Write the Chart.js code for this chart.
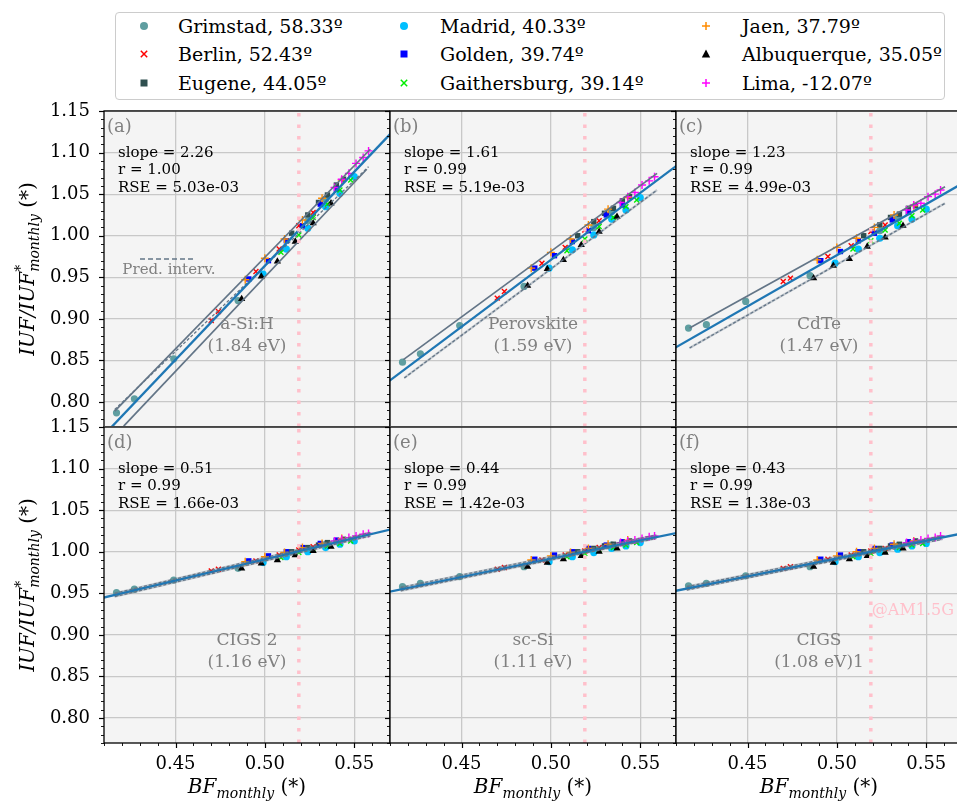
<!DOCTYPE html>
<html>
<head>
<meta charset="utf-8">
<title>IUF / IUF* monthly vs BF monthly</title>
<script src="https://cdn.jsdelivr.net/npm/chart.js@4.4.1/dist/chart.umd.min.js"></script>
<style>
  html, body { margin: 0; padding: 0; background: #ffffff; }
  body { position: relative; width: 957px; height: 806px; overflow: hidden; font-family: "DejaVu Serif", serif; }
  canvas { position: absolute; }
  #legend { position: absolute; left: 115px; top: 12px; width: 828px; height: 86px;
            border: 1px solid #cccccc; border-radius: 4px; background: #ffffff; }
  #legend span { position: absolute; font-size: 19px; line-height: 22px; white-space: nowrap; color: #000; }
  #legend svg { position: absolute; overflow: visible; }
</style>
</head>
<body>
<div id="legend"></div>
<script>
// ---- data ----
const cities = ['Grimstad', 'Berlin', 'Eugene', 'Madrid', 'Golden', 'Gaithersburg', 'Jaen', 'Albuquerque', 'Lima'];
const latitudes = ['58.33', '52.43', '44.05', '40.33', '39.74', '39.14', '37.79', '35.05', '-12.07'];

// BF monthly (x) per city
const bfGrimstad     = [0.417, 0.427, 0.449, 0.485, 0.524, 0.534];
const bfBerlin       = [0.470, 0.474, 0.495, 0.508, 0.519, 0.527];
const bfEugene       = [0.515, 0.524, 0.530, 0.535, 0.540, 0.544];
const bfMadrid       = [0.499, 0.512, 0.524, 0.534, 0.542, 0.550];
const bfGolden       = [0.491, 0.502, 0.512, 0.521, 0.531, 0.540];
const bfGaithersburg = [0.509, 0.519, 0.527, 0.535, 0.542, 0.548];
const bfJaen         = [0.489, 0.500, 0.511, 0.521, 0.532, 0.543];
const bfAlbuquerque  = [0.487, 0.498, 0.507, 0.517, 0.527, 0.537];
const bfLima         = [0.539, 0.543, 0.547, 0.551, 0.555, 0.558];

// IUF/IUF* monthly (y) per city, one row per panel (a)..(f)
const iufGrimstad = [
  [0.787, 0.804, 0.852, 0.922, 1.018, 1.044],
  [0.848, 0.858, 0.892, 0.939, 1.010, 1.029],
  [0.889, 0.893, 0.921, 0.952, 1.006, 1.021],
  [0.951, 0.955, 0.966, 0.980, 1.003, 1.009],
  [0.958, 0.962, 0.970, 0.982, 1.002, 1.008],
  [0.959, 0.962, 0.971, 0.982, 1.002, 1.007]];
const iufBerlin = [
  [0.898, 0.909, 0.957, 0.984, 1.012, 1.028],
  [0.925, 0.933, 0.967, 0.986, 1.007, 1.018],
  [0.945, 0.949, 0.975, 0.988, 1.005, 1.013],
  [0.977, 0.979, 0.989, 0.996, 1.002, 1.006],
  [0.979, 0.981, 0.990, 0.996, 1.001, 1.005],
  [0.980, 0.982, 0.991, 0.996, 1.001, 1.004]];
const iufEugene = [
  [1.003, 1.025, 1.040, 1.049, 1.061, 1.068],
  [1.000, 1.017, 1.027, 1.033, 1.042, 1.047],
  [1.000, 1.013, 1.022, 1.026, 1.033, 1.036],
  [1.000, 1.005, 1.008, 1.011, 1.013, 1.015],
  [1.000, 1.004, 1.007, 1.009, 1.011, 1.013],
  [1.000, 1.004, 1.007, 1.009, 1.011, 1.013]];
const iufMadrid = [
  [0.954, 0.984, 1.009, 1.035, 1.051, 1.071],
  [0.961, 0.983, 1.001, 1.020, 1.031, 1.046],
  [0.967, 0.984, 0.997, 1.012, 1.020, 1.032],
  [0.987, 0.994, 1.000, 1.005, 1.009, 1.013],
  [0.988, 0.994, 0.999, 1.004, 1.007, 1.011],
  [0.988, 0.994, 0.999, 1.003, 1.007, 1.010]];
const iufGolden = [
  [0.948, 0.970, 0.994, 1.012, 1.038, 1.056],
  [0.961, 0.976, 0.993, 1.006, 1.025, 1.037],
  [0.970, 0.981, 0.994, 1.003, 1.019, 1.028],
  [0.989, 0.995, 1.000, 1.005, 1.010, 1.014],
  [0.991, 0.996, 1.000, 1.004, 1.008, 1.012],
  [0.991, 0.996, 1.000, 1.004, 1.008, 1.012]];
const iufGaithersburg = [
  [0.980, 1.001, 1.022, 1.038, 1.055, 1.067],
  [0.982, 0.996, 1.011, 1.022, 1.035, 1.043],
  [0.984, 0.994, 1.007, 1.015, 1.024, 1.031],
  [0.993, 0.999, 1.003, 1.007, 1.010, 1.013],
  [0.994, 0.998, 1.002, 1.005, 1.008, 1.011],
  [0.994, 0.998, 1.001, 1.005, 1.008, 1.010]];
const iufJaen = [
  [0.947, 0.973, 0.996, 1.019, 1.045, 1.067],
  [0.961, 0.980, 0.996, 1.013, 1.032, 1.046],
  [0.971, 0.986, 0.997, 1.010, 1.025, 1.036],
  [0.988, 0.994, 0.999, 1.005, 1.010, 1.016],
  [0.990, 0.995, 0.999, 1.004, 1.009, 1.014],
  [0.990, 0.995, 1.000, 1.004, 1.009, 1.013]];
const iufAlbuquerque = [
  [0.924, 0.951, 0.969, 0.993, 1.015, 1.039],
  [0.940, 0.960, 0.971, 0.989, 1.005, 1.023],
  [0.949, 0.964, 0.972, 0.987, 0.998, 1.012],
  [0.980, 0.986, 0.990, 0.996, 1.001, 1.006],
  [0.982, 0.987, 0.991, 0.995, 1.000, 1.004],
  [0.982, 0.987, 0.991, 0.995, 0.999, 1.004]];
const iufLima = [
  [1.058, 1.068, 1.075, 1.087, 1.094, 1.102],
  [1.040, 1.047, 1.052, 1.061, 1.066, 1.071],
  [1.031, 1.037, 1.039, 1.047, 1.050, 1.055],
  [1.013, 1.015, 1.017, 1.019, 1.021, 1.022],
  [1.011, 1.013, 1.014, 1.016, 1.018, 1.019],
  [1.011, 1.012, 1.014, 1.016, 1.017, 1.019]];

// per panel fit results and labels
const panelLetters = ['(a)', '(b)', '(c)', '(d)', '(e)', '(f)'];
const materials = [['a-Si:H', '(1.84 eV)'], ['Perovskite', '(1.59 eV)'], ['CdTe', '(1.47 eV)'],
                   ['CIGS 2', '(1.16 eV)'], ['sc-Si', '(1.11 eV)'], ['CIGS', '(1.08 eV)1']];
const slopes   = [2.26, 1.61, 1.23, 0.51, 0.44, 0.43];
const rValues  = ['1.00', '0.99', '0.99', '0.99', '0.99', '0.99'];
const rseTexts = ['5.03e-03', '5.19e-03', '4.99e-03', '1.66e-03', '1.42e-03', '1.38e-03'];
const fitUnityBF = [0.516, 0.518, 0.519, 0.518, 0.519, 0.519];   // BF where the fit crosses 1

// prediction interval lines: [x1, y1, x2, y2]
const piUpper = [[0.416, 0.789, 0.559, 1.104], [0.4175, 0.851, 0.5594, 1.075], [0.4176, 0.889, 0.5605, 1.059],
                 [0.416, 0.950, 0.559, 1.023], [0.416, 0.957, 0.559, 1.020], [0.416, 0.958, 0.559, 1.019]];
const piLower = [[0.421, 0.771, 0.557, 1.080], [0.418, 0.829, 0.5594, 1.055], [0.4176, 0.865, 0.5605, 1.039],
                 [0.416, 0.946, 0.559, 1.019], [0.416, 0.953, 0.559, 1.016], [0.416, 0.954, 0.559, 1.015]];
const piCross = [[0.416, 0.791, 0.558, 1.083], null, null, null, null, null];

const bfReference = 0.519;     // BF @AM1.5G
const xRange = [0.41, 0.57];
const yRange = [0.77, 1.15];
const xTicks = [0.45, 0.50, 0.55];
const yTicks = [0.80, 0.85, 0.90, 0.95, 1.00, 1.05, 1.10, 1.15];

const bfByCity  = [bfGrimstad, bfBerlin, bfEugene, bfMadrid, bfGolden, bfGaithersburg, bfJaen, bfAlbuquerque, bfLima];
const iufByCity = [iufGrimstad, iufBerlin, iufEugene, iufMadrid, iufGolden, iufGaithersburg, iufJaen, iufAlbuquerque, iufLima];

// ---- styles / layout ----
const markers = [
  { style: 'circle',   color: '#5f9ea0', r: 3.6, bw: 0 },
  { style: 'crossRot', color: '#ff0000', r: 3.5, bw: 1.4 },
  { style: 'rect',     color: '#2f4f4f', r: 3.8, bw: 0 },
  { style: 'circle',   color: '#00bfff', r: 3.6, bw: 0 },
  { style: 'rect',     color: '#0000ff', r: 3.8, bw: 0 },
  { style: 'crossRot', color: '#00ee00', r: 3.5, bw: 1.4 },
  { style: 'cross',    color: '#ff8c00', r: 4.0, bw: 1.4 },
  { style: 'triangle', color: '#000000', r: 4.2, bw: 0 },
  { style: 'cross',    color: '#ff00ff', r: 4.0, bw: 1.4 }
];
const COL_LEFT = [104, 390, 676], ROW_TOP = [111, 427];
const PW = 286, PH = 316, PAD_T = 16, SIDE = 8, X_AXIS_H = 63, Y_AXIS_W = 104;
const SLATE = '#637587', SLATE_LIGHT = 'rgba(99,117,135,0.35)';
const SERIF = '"DejaVu Serif", serif';

Chart.defaults.font.family = SERIF;

// legend (3 columns, column-major like matplotlib ncol=3)
const legend = document.getElementById('legend');
const legMarkX = [28, 288, 590], legTextX = [62, 324, 626], legRowY = [13, 41, 70];
function markerSvg(m) {
  const c = m.color;
  if (m.style === 'circle') return `<circle cx="0" cy="0" r="4" fill="${c}"/>`;
  if (m.style === 'rect') return `<rect x="-3.5" y="-3.5" width="7" height="7" fill="${c}"/>`;
  if (m.style === 'triangle') return `<polygon points="0,-4.5 4.2,3.5 -4.2,3.5" fill="${c}"/>`;
  if (m.style === 'cross') return `<path d="M-4 0H4M0 -4V4" stroke="${c}" stroke-width="1.5"/>`;
  return `<path d="M-3.2 -3.2L3.2 3.2M-3.2 3.2L3.2 -3.2" stroke="${c}" stroke-width="1.5"/>`;
}
cities.forEach((name, i) => {
  const col = Math.floor(i / 3), row = i % 3;
  const svg = document.createElementNS('http://www.w3.org/2000/svg', 'svg');
  svg.setAttribute('width', '10'); svg.setAttribute('height', '10');
  svg.setAttribute('viewBox', '-5 -5 10 10');
  svg.style.left = (legMarkX[col] - 5) + 'px';
  svg.style.top = (legRowY[row] - 5) + 'px';
  svg.innerHTML = markerSvg(markers[i]);
  legend.appendChild(svg);
  const span = document.createElement('span');
  span.textContent = name + ', ' + latitudes[i] + 'º';
  span.style.left = legTextX[col] + 'px';
  span.style.top = (legRowY[row] - 11) + 'px';
  legend.appendChild(span);
});

function seg(q) { return [{ x: q[0], y: q[1] }, { x: q[2], y: q[3] }]; }
function lineDs(data, color, width, dash, order) {
  return { data, showLine: true, borderColor: color, borderWidth: width, borderDash: dash || [],
           pointRadius: 0, pointHoverRadius: 0, fill: false, order };
}

function drawMath(ctx, segs) {
  // segs: {t, size, italic, dy, stack} ; stack=true shares x with next segment
  let w = 0, i = 0;
  const fontOf = s => (s.italic ? 'italic ' : '') + s.size + 'px ' + SERIF;
  while (i < segs.length) {
    ctx.font = fontOf(segs[i]);
    let sw = ctx.measureText(segs[i].t).width;
    if (segs[i].stack) { ctx.font = fontOf(segs[i + 1]); sw = Math.max(sw, ctx.measureText(segs[i + 1].t).width); i++; }
    w += sw; i++;
  }
  let x = -w / 2; i = 0;
  ctx.textBaseline = 'alphabetic'; ctx.textAlign = 'left';
  while (i < segs.length) {
    ctx.font = fontOf(segs[i]);
    let sw = ctx.measureText(segs[i].t).width;
    ctx.fillText(segs[i].t, x, 7 + (segs[i].dy || 0));
    if (segs[i].stack) {
      const n = segs[i + 1];
      ctx.font = fontOf(n);
      ctx.fillText(n.t, x, 7 + (n.dy || 0));
      sw = Math.max(sw, ctx.measureText(n.t).width); i++;
    }
    x += sw; i++;
  }
}

function decoPlugin(p, row, col) {
  return {
    id: 'deco' + p,
    beforeDraw(chart) {
      const { ctx, chartArea: a } = chart;
      ctx.save();
      ctx.fillStyle = '#f4f4f4';
      ctx.fillRect(a.left, a.top, a.right - a.left, a.bottom - a.top);
      ctx.restore();
    },
    afterDatasetsDraw(chart) {
      const { ctx, chartArea: a, scales } = chart;
      ctx.save();
      ctx.textAlign = 'left'; ctx.textBaseline = 'middle';
      ctx.fillStyle = '#808080';
      ctx.font = '18px ' + SERIF;
      ctx.fillText(panelLetters[p], a.left + 3, a.top + 16);
      ctx.fillStyle = '#000000';
      ctx.font = '15px ' + SERIF;
      const sx = a.left + 14;
      ctx.fillText('slope = ' + slopes[p].toFixed(2), sx, a.top + 42);
      ctx.fillText('r = ' + rValues[p], sx, a.top + 59.5);
      ctx.fillText('RSE = ' + rseTexts[p], sx, a.top + 77);
      ctx.fillStyle = '#808080';
      ctx.textAlign = 'center';
      ctx.font = '17px ' + SERIF;
      const cx = (a.left + a.right) / 2;
      ctx.fillText(materials[p][0], cx, a.top + 214);
      ctx.fillText(materials[p][1], cx, a.top + 236);
      if (p === 0) {
        const y0 = a.top + 148;
        ctx.strokeStyle = SLATE; ctx.lineWidth = 1.3; ctx.setLineDash([5, 3]);
        ctx.beginPath(); ctx.moveTo(a.left + 36, y0); ctx.lineTo(a.left + 89, y0); ctx.stroke();
        ctx.setLineDash([]);
        ctx.font = '15px ' + SERIF; ctx.fillStyle = '#808080';
        ctx.fillText('Pred. interv.', a.left + 65, a.top + 159);
      }
      if (p === 5) {
        ctx.textAlign = 'left';
        ctx.fillStyle = '#ffc0cb';
        ctx.font = '16px ' + SERIF;
        ctx.fillText('@AM1.5G', scales.x.getPixelForValue(bfReference) + 1, a.top + 184);
      }
      ctx.restore();
    },
    afterDraw(chart) {
      const { ctx, chartArea: a, scales } = chart;
      ctx.save();
      ctx.strokeStyle = '#000000';
      ctx.fillStyle = '#000000';
      ctx.font = '18px ' + SERIF;
      // y ticks (major every 0.05, minor every 0.01) on the left of every panel
      for (let k = 77; k <= 115; k++) {
        const yy = Math.round(scales.y.getPixelForValue(k / 100)) + 0.5;
        const major = k % 5 === 0;
        ctx.lineWidth = major ? 1.2 : 0.9;
        ctx.beginPath(); ctx.moveTo(a.left, yy); ctx.lineTo(a.left - (major ? 5 : 3), yy); ctx.stroke();
      }
      if (col === 0) {
        ctx.textAlign = 'right'; ctx.textBaseline = 'middle';
        yTicks.forEach(v => ctx.fillText(v.toFixed(2), a.left - 14, scales.y.getPixelForValue(v)));
      }
      if (row === 1) {
        for (let k = 41; k <= 57; k++) {
          const xx = Math.round(scales.x.getPixelForValue(k / 100)) + 0.5;
          const major = k % 5 === 0;
          ctx.lineWidth = major ? 1.2 : 0.9;
          ctx.beginPath(); ctx.moveTo(xx, a.bottom); ctx.lineTo(xx, a.bottom + (major ? 5 : 3)); ctx.stroke();
        }
        ctx.textAlign = 'center'; ctx.textBaseline = 'middle';
        xTicks.forEach(v => ctx.fillText(v.toFixed(2), scales.x.getPixelForValue(v), a.bottom + 21));
      }
      ctx.lineWidth = 1.3;
      ctx.strokeRect(a.left, a.top, a.right - a.left, a.bottom - a.top);
      if (col === 0) {
        ctx.save();
        ctx.translate(27, (a.top + a.bottom) / 2);
        ctx.rotate(-Math.PI / 2);
        drawMath(ctx, [
          { t: 'IUF/IUF', size: 20, italic: true },
          { t: '*', size: 14, italic: true, dy: -9, stack: true },
          { t: 'monthly', size: 14, italic: true, dy: 5 },
          { t: ' (*)', size: 20 }
        ]);
        ctx.restore();
      }
      if (row === 1) {
        ctx.save();
        ctx.translate((a.left + a.right) / 2, a.bottom + 43);
        drawMath(ctx, [
          { t: 'BF', size: 20, italic: true },
          { t: 'monthly', size: 14, italic: true, dy: 5 },
          { t: ' (*)', size: 20 }
        ]);
        ctx.restore();
      }
      ctx.restore();
    }
  };
}

for (let p = 0; p < 6; p++) {
  const row = p < 3 ? 0 : 1, col = p % 3;
  const canvas = document.createElement('canvas');
  const left = col === 0 ? 0 : COL_LEFT[col] - SIDE;
  const width = col === 0 ? Y_AXIS_W + PW : PW + SIDE;
  const top = ROW_TOP[row] - PAD_T;
  const height = PAD_T + PH + (row === 1 ? X_AXIS_H : 3);
  canvas.width = width; canvas.height = height;
  canvas.style.left = left + 'px'; canvas.style.top = top + 'px';
  canvas.style.width = width + 'px'; canvas.style.height = height + 'px';
  document.body.appendChild(canvas);

  const datasets = [];
  cities.forEach((name, i) => {
    const m = markers[i];
    datasets.push({
      label: name,
      data: bfByCity[i].map((x, k) => ({ x, y: iufByCity[i][p][k] })),
      pointStyle: m.style, pointRadius: m.r, pointHoverRadius: m.r,
      pointBackgroundColor: m.color, pointBorderColor: m.color, pointBorderWidth: m.bw,
      showLine: false, order: 30 - i
    });
  });
  const s = slopes[p], x0 = fitUnityBF[p];
  datasets.push(lineDs([{ x: 0.40, y: 1 + s * (0.40 - x0) }, { x: 0.58, y: 1 + s * (0.58 - x0) }], '#1f77b4', 2.3, null, 3));
  if (row === 0) {
    datasets.push(lineDs(seg(piUpper[p]), SLATE, 1.7, null, 4));
  } else {
    datasets.push(lineDs(seg(piUpper[p]), SLATE_LIGHT, 2.2, null, 5));
    datasets.push(lineDs(seg(piUpper[p]), SLATE, 1.3, [3, 2], 2));
  }
  if (p === 0) {
    datasets.push(lineDs(seg(piLower[p]), SLATE, 1.7, null, 4));
  } else {
    datasets.push(lineDs(seg(piLower[p]), SLATE_LIGHT, 2.2, null, 5));
    datasets.push(lineDs(seg(piLower[p]), SLATE, 1.3, [3, 2], row === 0 ? 4 : 2));
  }
  if (piCross[p]) datasets.push(lineDs(seg(piCross[p]), SLATE, 1.3, [3, 2], 4));
  datasets.push(lineDs([{ x: bfReference, y: yRange[0] }, { x: bfReference, y: yRange[1] }], '#ffc0cb', 3.5, [3.5, 8], 1));

  new Chart(canvas, {
    type: 'scatter',
    data: { datasets },
    options: {
      responsive: false, animation: false, events: [],
      layout: { autoPadding: false, padding: { left: col === 0 ? Y_AXIS_W : SIDE, top: PAD_T, right: 0, bottom: height - PAD_T - PH } },
      plugins: { legend: { display: false }, tooltip: { enabled: false } },
      scales: {
        x: {
          type: 'linear', min: xRange[0], max: xRange[1],
          afterBuildTicks: sc => { sc.ticks = xTicks.map(v => ({ value: v })); },
          afterFit: sc => { sc.height = 0; },
          grid: { color: '#c8c8c8', lineWidth: 1.3, drawTicks: false },
          border: { display: false },
          ticks: { display: false }
        },
        y: {
          type: 'linear', min: yRange[0], max: yRange[1],
          afterBuildTicks: sc => { sc.ticks = yTicks.map(v => ({ value: v })); },
          afterFit: sc => { sc.width = 0; },
          grid: { color: '#c8c8c8', lineWidth: 1.3, drawTicks: false },
          border: { display: false },
          ticks: { display: false }
        }
      }
    },
    plugins: [decoPlugin(p, row, col)]
  });
}
</script>
</body>
</html>
